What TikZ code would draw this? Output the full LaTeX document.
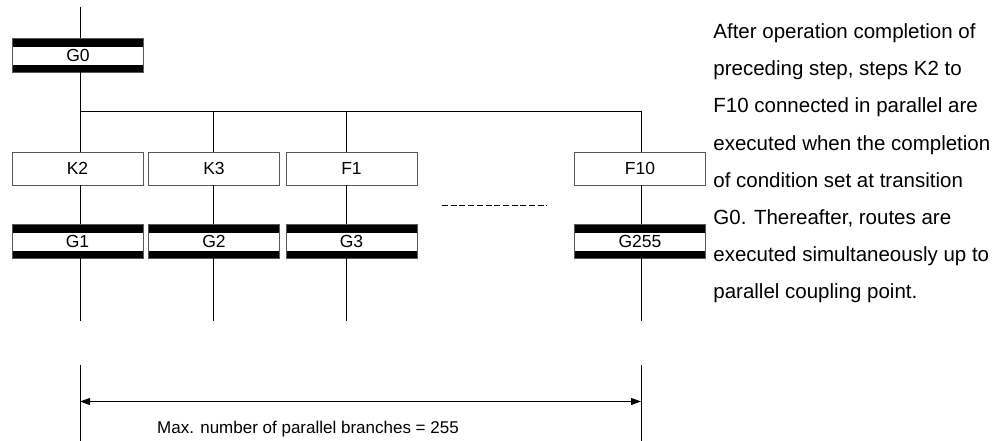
\documentclass[tikz,border=0pt]{standalone}
\usepackage{fontspec}
\setmainfont{Liberation Sans}
\usetikzlibrary{arrows.meta}
\begin{document}
\begin{tikzpicture}[x=1pt,y=-1pt,line width=0.8pt,
  >={Triangle[length=10pt,width=7pt]},
  lab/.style={font=\fontsize{17.5}{20}\selectfont},
  stepbox/.style={lab,draw=black!65,fill=white,minimum width=131pt,minimum height=33pt,inner sep=0pt},
  trans/.style={lab,draw=black!65,fill=black,minimum width=131pt,minimum height=34pt,inner sep=0pt,
    path picture={\fill[white] ([yshift=-9pt]path picture bounding box.north west) rectangle ([yshift=7pt]path picture bounding box.south east);}},
  desc/.style={anchor=base west,inner sep=0pt,font=\fontsize{20.5}{24}\selectfont}]
\useasboundingbox (0,0) rectangle (1008,441);

% nodes
\node[trans] (G0) at (78,55) {G0};
\node[stepbox] (K2) at (77.5,168.5) {K2};
\node[stepbox] (K3) at (214,168.5) {K3};
\node[stepbox] (F1) at (351.5,168.5) {F1};
\node[stepbox] (F10) at (640,168.5) {F10};
\node[trans] (G1) at (77.5,241) {G1};
\node[trans] (G2) at (214,241) {G2};
\node[trans] (G3) at (351.5,241) {G3};
\node[trans] (G255) at (640,241) {G255};

% coordinates
\coordinate (top) at (80,7);
\coordinate (b1) at (80,111);
\coordinate (b2) at (213,111);
\coordinate (b3) at (346,111);
\coordinate (b4) at (641,111);
\coordinate (e1) at (80,321);
\coordinate (e2) at (213,321);
\coordinate (e3) at (346,321);
\coordinate (e4) at (641,321);

% connectors
\draw (top) -- (top |- G0.north);
\draw (G0.south -| b1) -- (b1) -- (b4);
\foreach \s/\g/\b/\e in {K2/G1/b1/e1,K3/G2/b2/e2,F1/G3/b3/e3,F10/G255/b4/e4}{
  \draw (\b) -- (\b |- \s.north);
  \draw (\s.south -| \b) -- (\g.north -| \b);
  \draw (\g.south -| \e) -- (\e);
}

% omitted branches
\coordinate (ds1) at (442,205.5);
\coordinate (ds2) at (547,205.5);
\draw[line width=0.6pt,dash pattern=on 6pt off 2.7pt] (ds1) -- (ds2);

% dimension
\coordinate (d1t) at (80,365);
\coordinate (d1b) at (80,441);
\coordinate (d2t) at (641,365);
\coordinate (d2b) at (641,441);
\coordinate (a1) at (80,401.5);
\coordinate (a2) at (641,401.5);
\draw (d1t) -- (d1b);
\draw (d2t) -- (d2b);
\draw[<->] (a1) -- (a2);
\node[anchor=base,inner sep=0pt,font=\fontsize{17}{20}\selectfont] (maxt) at (308,433) {Max. number of parallel branches = 255};

% description
\node[desc] (t1) at (713,39) {After operation completion of};
\node[desc] (t2) at (713,76) {preceding step, steps K2 to};
\node[desc] (t3) at (713,113) {F10 connected in parallel are};
\node[desc] (t4) at (713,150) {executed when the completion};
\node[desc] (t5) at (713,187) {of condition set at transition};
\node[desc] (t6) at (713,224) {G0. Thereafter, routes are};
\node[desc] (t7) at (713,261) {executed simultaneously up to};
\node[desc] (t8) at (713,298) {parallel coupling point.};
\end{tikzpicture}
\end{document}
